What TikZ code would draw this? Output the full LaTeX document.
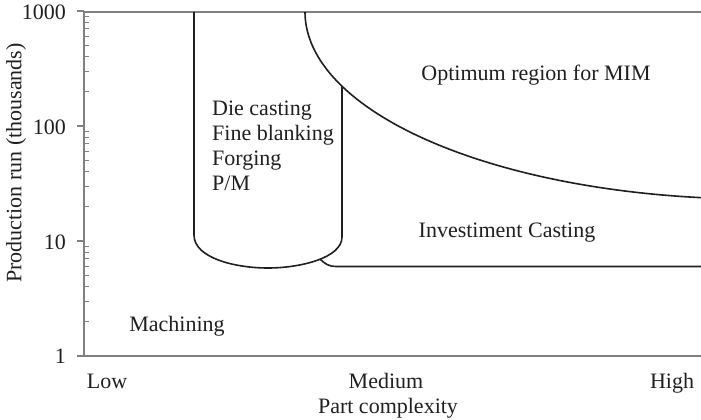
\documentclass[tikz,border=0pt]{standalone}
\usepackage{fontspec}
\setmainfont{Liberation Serif}
\begin{document}
\begin{tikzpicture}[x=1pt,y=-1pt,
  axisline/.style={draw=black!50, line width=1.3pt},
  curve/.style={draw=black!88, line width=1.6pt},
  lbl/.style={font=\fontsize{22}{26}\selectfont, text=black!88, inner sep=0pt},
  ticklbl/.style={lbl, anchor=east},
]
\useasboundingbox (0,0) rectangle (701,420);
% axes
\coordinate (ytop) at (84,12);
\coordinate (orig) at (84,356);
\coordinate (xend) at (701,356);
\coordinate (tend) at (701,12);
\draw[axisline] (ytop) -- (orig) -- (xend);
\draw[axisline] (ytop) -- (tend);
% major ticks
\foreach \d in {0,1,2,3} {
  \draw[axisline] (77,{356-115*\d}) -- (84,{356-115*\d});
}
% minor ticks
\foreach \d in {0,1,2} {
  \foreach \m in {2,...,9} {
    \draw[draw=black!50, line width=1pt] (84,{356-115*(\d+log10(\m))}) -- (89,{356-115*(\d+log10(\m))});
  }
}
% tick labels
\node[ticklbl] (t1000) at (66,12) {1000};
\node[ticklbl] (t100) at (66,127) {100};
\node[ticklbl] (t10) at (66,242) {10};
\node[ticklbl] (t1) at (66,356) {1};
% axis labels
\node[lbl, rotate=90] (ylab) at (16,163) {Production run (thousands)};
\node[lbl, anchor=base] (low) at (107,388) {Low};
\node[lbl, anchor=base] (med) at (386,388) {Medium};
\node[lbl, anchor=base] (high) at (672,388) {High};
\node[lbl, anchor=base] (xlab) at (388,413) {Part complexity};
% die casting region
\coordinate (dtl) at (194,12);
\coordinate (dtr) at (342,86);
\draw[curve] (dtl) -- (194,235) .. controls (194,258) and (235,268) .. (268,268)
  .. controls (300,268) and (342,258) .. (342,237) -- (dtr);
% investment casting boundary
\coordinate (icstart) at (320,259);
\coordinate (icend) at (701,266.5);
\draw[curve] (icstart) .. controls (325,264) and (329,266.5) .. (336,266.5) -- (icend);
% MIM boundary (elliptical arc)
\draw[curve] plot[domain=180:96.9, samples=80, smooth] ({755+450*cos(\x)}, {12+187*sin(\x)});
% region labels
\node[lbl, anchor=base] (mim) at (536,80) {Optimum region for MIM};
\node[lbl, anchor=base west] (dc1) at (212,115) {Die casting};
\node[lbl, anchor=base west] (dc2) at (212,140) {Fine blanking};
\node[lbl, anchor=base west] (dc3) at (212,165) {Forging};
\node[lbl, anchor=base west] (dc4) at (212,190) {P/M};
\node[lbl, anchor=base] (ic) at (507,237) {Investiment Casting};
\node[lbl, anchor=base] (mach) at (177,331) {Machining};
\end{tikzpicture}
\end{document}
